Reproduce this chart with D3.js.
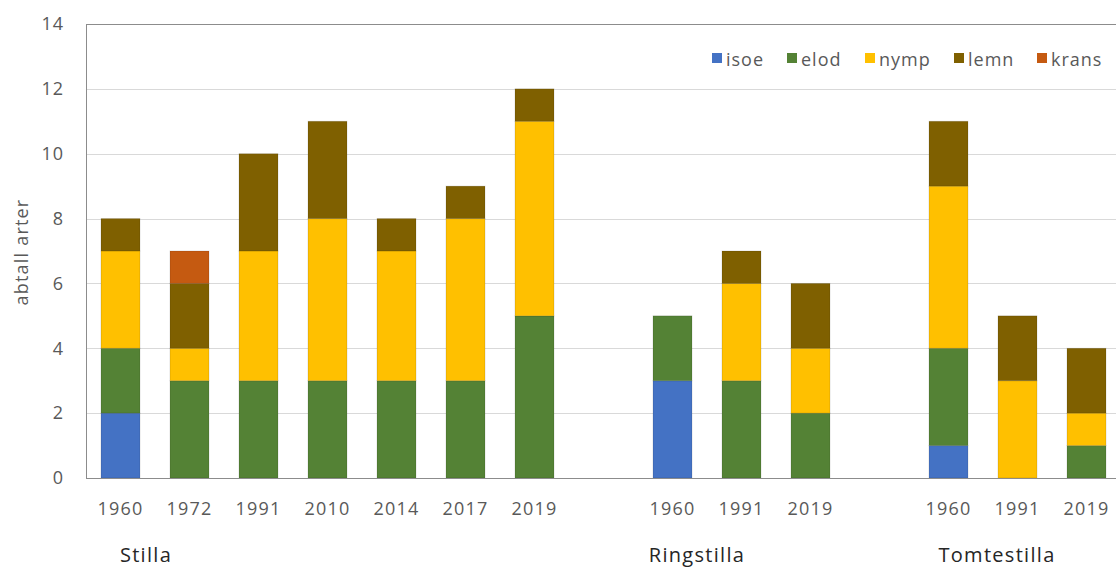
<!DOCTYPE html>
<html>
<head>
<meta charset="utf-8">
<script src="https://cdn.jsdelivr.net/npm/d3@7"></script>
<style>
  body { margin: 0; background: #fff; }
  svg { display: block; font-family: "Open Sans", "Noto Sans", sans-serif; }
</style>
</head>
<body>
<svg id="chart" width="1116" height="570"></svg>
<script>
// Slots along the x axis; the two "gap" slots separate the lakes
const slots  = ["S1960","S1972","S1991","S2010","S2014","S2017","S2019","gap1",
                "R1960","R1991","R2019","gap2",
                "T1960","T1991","T2019"];
const years  = ["1960","1972","1991","2010","2014","2017","2019","",
                "1960","1991","2019","",
                "1960","1991","2019"];
const series = ["isoe","elod","nymp","lemn","krans"];
const colors = ["#4472C4","#548235","#FFC000","#7F6000","#C55A11"];

// species counts per slot, one array per series
const isoe  = [2,0,0,0,0,0,0,0, 3,0,0,0, 1,0,0];
const elod  = [2,3,3,3,3,3,5,0, 2,3,2,0, 3,0,1];
const nymp  = [3,1,4,5,4,5,6,0, 0,3,2,0, 5,3,1];
const lemn  = [1,2,3,3,1,1,1,0, 0,1,2,0, 2,2,2];
const krans = [0,1,0,0,0,0,0,0, 0,0,0,0, 0,0,0];

const groups = [
  { name: "Stilla",      at: "S1960", dx: 45 },
  { name: "Ringstilla",  at: "R1960", dx: 44 },
  { name: "Tomtestilla", at: "T1960", dx: 68 }
];
const yTicks = [0,2,4,6,8,10,12,14];

const values = [isoe, elod, nymp, lemn, krans];
const rows = slots.map((s, i) => {
  const r = { slot: s };
  series.forEach((k, j) => r[k] = values[j][i]);
  return r;
});
const stacked = d3.stack().keys(series)(rows);

const svg = d3.select("#chart");
const x = d3.scaleBand().domain(slots).range([86, 1121]).paddingInner(0.435).paddingOuter(0.2175);
const y = d3.scaleLinear().domain([0, 14]).range([478, 24]);
const color = d3.scaleOrdinal().domain(series).range(colors);

const tickFont = "'Open Sans', sans-serif";

// horizontal gridlines
svg.append("g").selectAll("line").data(yTicks.filter(t => t > 0)).join("line")
  .attr("x1", 86).attr("x2", 1116)
  .attr("y1", d => Math.round(y(d)) + 0.5).attr("y2", d => Math.round(y(d)) + 0.5)
  .attr("stroke", d => d === 14 ? "#8c8c8c" : "#d9d9d9").attr("stroke-width", 1);

// y axis labels
const yAxis = svg.append("g").attr("transform", "translate(86,0)")
  .call(d3.axisLeft(y).tickValues(yTicks).tickSize(0).tickPadding(22));
yAxis.select(".domain").attr("stroke", "#8c8c8c");
yAxis.selectAll("text").attr("font-size", 18).attr("fill", "#595959")
  .attr("letter-spacing", 1).attr("font-family", tickFont);

// stacked bars
svg.append("g").selectAll("g").data(stacked).join("g")
  .attr("fill", d => color(d.key))
  .selectAll("rect").data(d => d.filter(p => p[1] > p[0])).join("rect")
  .attr("x", d => x(d.data.slot))
  .attr("width", x.bandwidth())
  .attr("y", d => y(d[1]))
  .attr("height", d => y(d[0]) - y(d[1]))
  .attr("stroke", "rgba(0,0,0,0.12)").attr("stroke-width", 1);

// x axis
const xAxis = svg.append("g").attr("transform", "translate(0,478)")
  .call(d3.axisBottom(x).tickSize(0).tickPadding(24).tickFormat((d, i) => years[i]));
xAxis.select(".domain").attr("stroke", "#8c8c8c").attr("d", "M86,0.5H1116");
xAxis.selectAll("text").attr("font-size", 18).attr("fill", "#595959")
  .attr("letter-spacing", 1.2).attr("font-family", tickFont);

// lake names
svg.append("g").selectAll("text").data(groups).join("text")
  .attr("x", d => x(d.at) + d.dx)
  .attr("y", 562)
  .attr("text-anchor", "middle")
  .attr("font-size", 20).attr("fill", "#262626").attr("letter-spacing", 1.3)
  .text(d => d.name);

// y axis title
svg.append("text")
  .attr("transform", "translate(28,252) rotate(-90)")
  .attr("text-anchor", "middle")
  .attr("font-size", 18).attr("fill", "#595959").attr("letter-spacing", 1.2)
  .text("abtall arter");

// legend
const legendX = [712, 787, 865, 954, 1037];
const legend = svg.append("g").selectAll("g").data(series).join("g")
  .attr("transform", (d, i) => `translate(${legendX[i]},53)`);
legend.append("rect").attr("width", 10).attr("height", 10).attr("fill", d => color(d));
legend.append("text").attr("x", 14).attr("y", 13)
  .attr("font-size", 18).attr("fill", "#595959").attr("letter-spacing", 1).text(d => d);
</script>
</body>
</html>
